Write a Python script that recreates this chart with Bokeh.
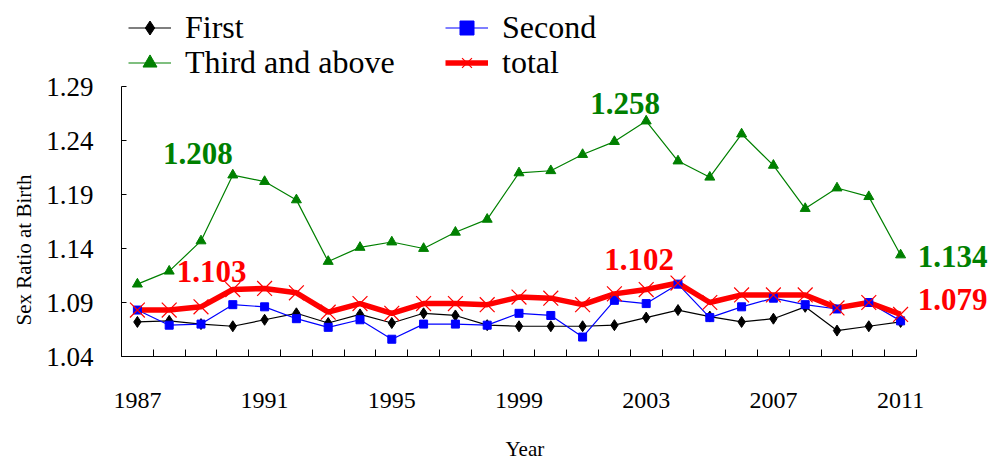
from bokeh.plotting import figure
from bokeh.models import (Range1d, FixedTicker, Legend, LegendItem, Label,
                          PrintfTickFormatter, Title)
from bokeh.embed import file_html
from bokeh.resources import INLINE

# ---------------- data ----------------
years = list(range(1987, 2012))
first = [1.072, 1.073, 1.070, 1.068, 1.074, 1.080, 1.071, 1.079, 1.071, 1.080,
         1.078, 1.069, 1.068, 1.068, 1.068, 1.069, 1.076, 1.083, 1.077, 1.072,
         1.075, 1.086, 1.064, 1.068, 1.072]
second = [1.083, 1.069, 1.070, 1.088, 1.086, 1.075, 1.067, 1.074, 1.056, 1.070,
          1.070, 1.069, 1.080, 1.078, 1.058, 1.092, 1.089, 1.107, 1.076, 1.086,
          1.094, 1.088, 1.084, 1.090, 1.073]
third = [1.107, 1.119, 1.147, 1.208, 1.202, 1.185, 1.128, 1.141, 1.146, 1.140,
         1.155, 1.167, 1.210, 1.212, 1.227, 1.239, 1.258, 1.221, 1.206, 1.246,
         1.217, 1.177, 1.196, 1.188, 1.134]
total = [1.083, 1.083, 1.086, 1.102, 1.103, 1.099, 1.081, 1.089, 1.080, 1.089,
         1.089, 1.088, 1.095, 1.094, 1.088, 1.098, 1.102, 1.108, 1.090, 1.097,
         1.097, 1.097, 1.085, 1.090, 1.079]
series_names = ["First", "Second", "Third and above", "total"]
x_tick_years = [1987, 1991, 1995, 1999, 2003, 2007, 2011]
y_ticks = [1.04, 1.09, 1.14, 1.19, 1.24, 1.29]

# annotated points: (series index, year)
annot_series = [2, 3, 2, 3, 2, 3]
annot_years = [1990, 1991, 2003, 2003, 2011, 2011]

# ---------------- layout / styles ----------------
FONT = "Liberation Serif"
colors = ["black", "#0000FF", "#008000", "#FF0000"]
annot_dx = [-35, -53, -21, -7, 52, 52]
annot_dy = [22, 17, 18, 30, -2, 15]

W, H = 991, 462
AX_LEFT, AX_RIGHT, AX_TOP, AX_BOTTOM = 121, 916, 86, 356   # axis box in page px
axis_w = AX_RIGHT - AX_LEFT
axis_h = AX_BOTTOM - AX_TOP
x_lo, x_hi = years[0] - 0.5, years[-1] + 0.5
y_lo, y_hi = y_ticks[0], y_ticks[-1]
# the frame extends to the right and top edges so that the legend and the
# value labels outside the axis box are not clipped; axes use bounds.
x_end = x_hi + (W - AX_RIGHT) * (x_hi - x_lo) / axis_w
y_end = y_hi + AX_TOP * (y_hi - y_lo) / axis_h

p = figure(frame_width=W - AX_LEFT, frame_height=AX_BOTTOM,
           min_border_left=AX_LEFT, min_border_right=0,
           min_border_top=0, min_border_bottom=H - AX_BOTTOM,
           x_range=Range1d(x_lo, x_end), y_range=Range1d(y_lo, y_end),
           title=None, output_backend="svg", toolbar_location=None)
p.xgrid.visible = False
p.ygrid.visible = False
p.outline_line_color = None
p.background_fill_color = "white"
p.border_fill_color = "white"

# x axis: labels at category centres, tick marks between categories
p.xaxis.bounds = (x_lo, x_hi)
p.xaxis.ticker = FixedTicker(ticks=x_tick_years,
                             minor_ticks=[y - 0.5 for y in years] + [x_hi])
p.xaxis.major_tick_in = 0
p.xaxis.major_tick_out = 0
p.xaxis.minor_tick_in = 7
p.xaxis.minor_tick_out = 0
p.xaxis.minor_tick_line_color = "black"
p.xaxis.major_label_standoff = 36
p.xaxis.major_label_text_font_size = "24px"

# y axis
p.yaxis.bounds = (y_lo, y_hi)
p.yaxis.ticker = FixedTicker(ticks=y_ticks, minor_ticks=[])
p.yaxis.formatter = PrintfTickFormatter(format="%.2f")
p.yaxis.major_tick_in = 5
p.yaxis.major_tick_out = 0
p.yaxis.minor_tick_in = 0
p.yaxis.minor_tick_out = 0
p.yaxis.major_label_standoff = 28
p.yaxis.major_label_text_font_size = "27px"

for ax in (p.xaxis, p.yaxis):
    ax.axis_line_color = "black"
    ax.major_tick_line_color = "black"
    ax.major_label_text_font = FONT
    ax.major_label_text_color = "black"

# axis titles as positioned titles
p.add_layout(Title(text="Year", align="left", offset=384, standoff=48,
                   text_font=FONT, text_font_style="normal",
                   text_font_size="21px", text_color="black"), "below")
p.add_layout(Title(text="Sex Ratio at Birth", align="left", offset=31, standoff=16,
                   text_font=FONT, text_font_style="normal",
                   text_font_size="21px", text_color="black"), "left")

data = [first, second, third, total]
line_widths = [1.2, 1.2, 1.2, 5.5]
lines = []
for vals, c, lw in zip(data, colors, line_widths):
    lines.append(p.line(years, vals, line_color=c, line_width=lw))

marker_specs = [("diamond", 11, 1), ("square", 8, 1), ("triangle", 10, 1), ("x", 21, 1.2)]
marks = []
for vals, c, (m, s, lw) in zip(data, colors, marker_specs):
    marks.append(p.scatter(years, vals, marker=m, size=s, line_color=c,
                           fill_color=c, line_width=lw))

# value annotations
for si, yr, dx, dy in zip(annot_series, annot_years, annot_dx, annot_dy):
    v = data[si][years.index(yr)]
    p.add_layout(Label(x=yr, y=v, text=f"{v:.3f}", x_offset=dx, y_offset=dy,
                       text_align="center", text_baseline="alphabetic",
                       text_font=FONT, text_font_style="bold",
                       text_font_size="31px", text_color=colors[si]))

# legend: 2 x 2 grid (location = left, bottom in px from frame's bottom-left)
leg_pos = [(7, 310), (324, 310), (7, 275), (324, 275)]
for i, name in enumerate(series_names):
    item = LegendItem(label=name, renderers=[lines[i], marks[i]])
    leg = Legend(items=[item], location=leg_pos[i], border_line_color=None,
                 background_fill_alpha=0, padding=0, margin=0, spacing=0,
                 glyph_width=43, glyph_height=35, label_standoff=14,
                 label_text_font=FONT, label_text_font_size="32px",
                 label_text_color="black")
    p.add_layout(leg)

open("out.html", "w").write(file_html(p, INLINE))
